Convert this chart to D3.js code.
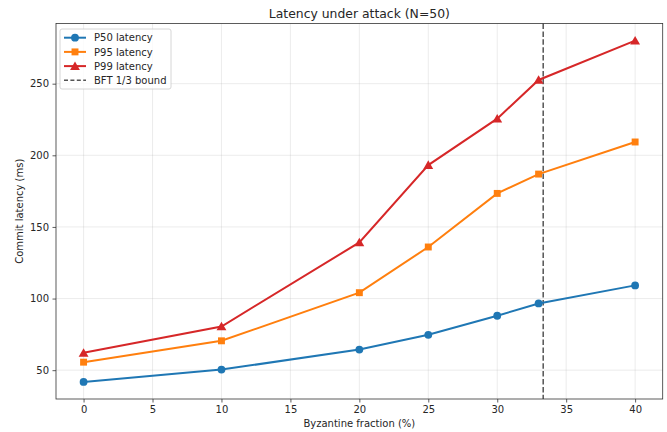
<!DOCTYPE html>
<html>
<head>
<meta charset="utf-8">
<script src="https://cdn.jsdelivr.net/npm/d3@7"></script>
<style>
  body { margin: 0; background: #fff; }
  svg text { font-family: "DejaVu Sans", sans-serif; fill: #262626; }
</style>
</head>
<body>
<svg id="chart"></svg>
<script>
// data
var fractions = [0, 10, 20, 25, 30, 33, 40];
var p50 = [41.8, 50.4, 64.4, 74.7, 88.0, 96.6, 109.2];
var p95 = [55.6, 70.5, 104.1, 136.0, 173.4, 186.9, 209.3];
var p99 = [62.1, 80.5, 139.2, 193.2, 225.6, 252.6, 280.1];
var xTicks = [0, 5, 10, 15, 20, 25, 30, 35, 40];
var yTicks = [50, 100, 150, 200, 250];
var bftBound = 100 / 3;

var seriesNames = ["P50 latency", "P95 latency", "P99 latency"];
var seriesColors = ["#1f77b4", "#ff7f0e", "#d62728"];
var seriesMarkers = [d3.symbolCircle, d3.symbolSquare, d3.symbolTriangle];

function createLineChart() {
    var W = 667, H = 432;
    var padding = {top: 23.5, right: 4.3, bottom: 33, left: 56},
        width = W - padding.left - padding.right,
        height = H - padding.top - padding.bottom;

    var svg = d3.select("#chart").attr("width", W).attr("height", H);
    var g = svg.append("g")
        .attr("transform", "translate(" + padding.left + "," + padding.top + ")");

    // ranges with matplotlib-like 5% margins
    var x = d3.scaleLinear().domain([-2, 42]).range([0, width]);
    var allVals = p50.concat(p95, p99);
    var ymin = d3.min(allVals), ymax = d3.max(allVals), pad = (ymax - ymin) * 0.05;
    var y = d3.scaleLinear().domain([ymin - pad, ymax + pad]).range([height, 0]);

    // grid
    g.append("g").selectAll("line").data(xTicks).enter().append("line")
        .attr("x1", function(d) { return x(d); }).attr("x2", function(d) { return x(d); })
        .attr("y1", 0).attr("y2", height)
        .attr("stroke", "#b0b0b0").attr("stroke-opacity", 0.3).attr("stroke-width", 0.8);
    g.append("g").selectAll("line").data(yTicks).enter().append("line")
        .attr("y1", function(d) { return y(d); }).attr("y2", function(d) { return y(d); })
        .attr("x1", 0).attr("x2", width)
        .attr("stroke", "#b0b0b0").attr("stroke-opacity", 0.3).attr("stroke-width", 0.8);

    // BFT bound line
    g.append("line")
        .attr("x1", x(bftBound)).attr("x2", x(bftBound))
        .attr("y1", 0).attr("y2", height)
        .attr("stroke", "#555").attr("stroke-width", 1.5)
        .attr("stroke-dasharray", "5.5,2.4");

    var line = d3.line()
        .x(function(d, i) { return x(fractions[i]); })
        .y(function(d) { return y(d); });

    [p50, p95, p99].forEach(function(vals, k) {
        g.append("path")
            .datum(vals)
            .attr("fill", "none")
            .attr("stroke", seriesColors[k])
            .attr("stroke-width", 2)
            .attr("d", line);
        g.append("g").selectAll("path").data(vals).enter().append("path")
            .attr("d", d3.symbol().type(seriesMarkers[k]).size(k === 2 ? 42 : 48))
            .attr("transform", function(d, i) {
                return "translate(" + x(fractions[i]) + "," + (y(d) + (k === 2 ? 1 : 0)) + ")";
            })
            .attr("fill", seriesColors[k]);
    });

    // axes
    var xAxis = g.append("g")
        .attr("transform", "translate(0," + height + ")")
        .call(d3.axisBottom(x).tickValues(xTicks).tickSize(3.5).tickPadding(3.5));
    var yAxis = g.append("g")
        .call(d3.axisLeft(y).tickValues(yTicks).tickSize(3.5).tickPadding(3.5));
    [xAxis, yAxis].forEach(function(a) {
        a.select(".domain").remove();
        a.selectAll("line").attr("stroke", "#333").attr("stroke-width", 0.8);
        a.selectAll("text").style("font-size", "10px").style("font-family", "DejaVu Sans").attr("fill", "#262626");
    });

    // frame
    g.append("rect")
        .attr("width", width).attr("height", height)
        .attr("fill", "none").attr("stroke", "#333").attr("stroke-width", 0.8);

    // labels
    svg.append("text")
        .attr("x", padding.left + width / 2).attr("y", 17.5)
        .attr("text-anchor", "middle").style("font-size", "12.4px")
        .text("Latency under attack (N=50)");
    svg.append("text")
        .attr("x", padding.left + width / 2).attr("y", 427)
        .attr("text-anchor", "middle").style("font-size", "10px")
        .text("Byzantine fraction (%)");
    svg.append("text")
        .attr("transform", "translate(22.5," + (padding.top + height / 2) + ") rotate(-90)")
        .attr("text-anchor", "middle").style("font-size", "10px")
        .text("Commit latency (ms)");

    // legend
    var lg = svg.append("g").attr("transform", "translate(60,29)");
    lg.append("rect").attr("width", 111).attr("height", 60).attr("rx", 2)
        .attr("fill", "#fff").attr("fill-opacity", 0.8)
        .attr("stroke", "#ccc").attr("stroke-width", 0.8);
    var items = seriesNames.map(function(n, k) { return {name: n, color: seriesColors[k], marker: seriesMarkers[k], dash: null}; });
    items.push({name: "BFT 1/3 bound", color: "#555", marker: null, dash: "4,2.4"});
    items.forEach(function(it, i) {
        var yy = 8.7 + i * 14.2;
        lg.append("line")
            .attr("x1", 4).attr("x2", 26).attr("y1", yy).attr("y2", yy)
            .attr("stroke", it.color).attr("stroke-width", it.dash ? 1.5 : 2)
            .attr("stroke-dasharray", it.dash);
        if (it.marker) {
            lg.append("path")
                .attr("d", d3.symbol().type(it.marker).size(it.marker === d3.symbolTriangle ? 42 : 48))
                .attr("transform", "translate(15," + (yy + (it.marker === d3.symbolTriangle ? 1 : 0)) + ")")
                .attr("fill", it.color);
        }
        lg.append("text")
            .attr("x", 34).attr("y", yy + 3.6)
            .style("font-size", "10px")
            .text(it.name);
    });
}

createLineChart();
</script>
</body>
</html>
